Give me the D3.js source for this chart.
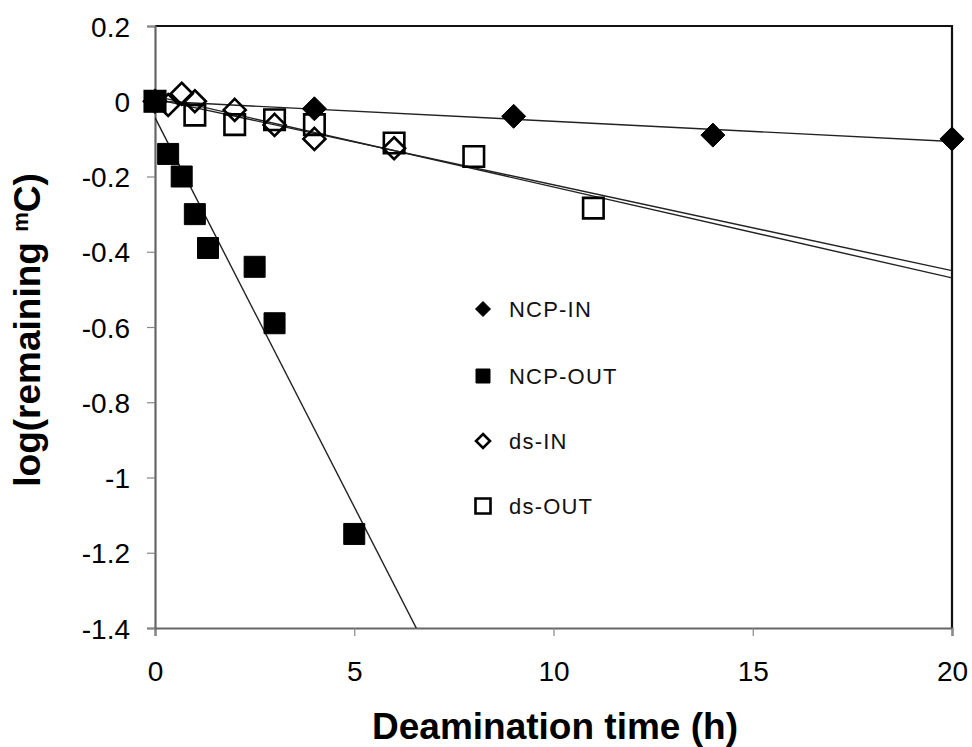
<!DOCTYPE html>
<html>
<head>
<meta charset="utf-8">
<script src="https://cdn.jsdelivr.net/npm/d3@7"></script>
<style>
  html, body { margin: 0; padding: 0; background: #fff; }
  svg { display: block; }
</style>
</head>
<body>
<svg id="chart" width="972" height="747"></svg>
<script>
// Deamination kinetics: log of remaining mC versus time, four samples with linear fits
const ncpInTime  = [0, 4, 9, 14, 20];
const ncpInLog   = [0, -0.02, -0.04, -0.09, -0.10];

const ncpOutTime = [0, 0.33, 0.67, 1, 1.33, 2.5, 3, 5];
const ncpOutLog  = [0, -0.14, -0.20, -0.30, -0.39, -0.44, -0.59, -1.15];

const dsInTime   = [0, 0.33, 0.67, 1, 2, 3, 4, 6];
const dsInLog    = [0, -0.01, 0.02, 0, -0.023, -0.063, -0.10, -0.125];

const dsOutTime  = [0, 1, 2, 3, 4, 6, 8, 11];
const dsOutLog   = [0, -0.037, -0.062, -0.049, -0.062, -0.111, -0.147, -0.284];

const seriesNames = ["NCP-IN", "NCP-OUT", "ds-IN", "ds-OUT"];
const xTicks = [0, 5, 10, 15, 20];
const yTicks = [0.2, 0, -0.2, -0.4, -0.6, -0.8, -1, -1.2, -1.4];
const yTickLabels = ["0.2", "0", "-0.2", "-0.4", "-0.6", "-0.8", "-1", "-1.2", "-1.4"];

const series = [
  { name: seriesNames[0], t: ncpInTime,  v: ncpInLog,  shape: "diamond", fill: true,  size: 24 },
  { name: seriesNames[1], t: ncpOutTime, v: ncpOutLog, shape: "square",  fill: true,  size: 21 },
  { name: seriesNames[2], t: dsInTime,   v: dsInLog,   shape: "diamond", fill: false, size: 22 },
  { name: seriesNames[3], t: dsOutTime,  v: dsOutLog,  shape: "square",  fill: false, size: 20.5 }
];

const svg = d3.select("#chart");
const m = { left: 155, right: 952, top: 26, bottom: 628 };

const x = d3.scaleLinear().domain([0, 20]).range([m.left, m.right]);
const y = d3.scaleLinear().domain([-1.4, 0.2]).range([m.bottom, m.top]);

// least-squares fit, like a spreadsheet trendline
function fit(t, v) {
  const mt = d3.mean(t), mv = d3.mean(v);
  let sxy = 0, sxx = 0;
  for (let i = 0; i < t.length; i++) {
    sxy += (t[i] - mt) * (v[i] - mv);
    sxx += (t[i] - mt) * (t[i] - mt);
  }
  const slope = sxy / sxx;
  return { slope, intercept: mv - slope * mt };
}

svg.append("defs").append("clipPath").attr("id", "plotClip")
  .append("rect")
  .attr("x", m.left).attr("y", m.top)
  .attr("width", m.right - m.left).attr("height", m.bottom - m.top);

// plot frame (top and right)
svg.append("path")
  .attr("d", `M${m.left},${m.top}H${m.right}V${m.bottom}`)
  .attr("fill", "none").attr("stroke", "#111").attr("stroke-width", 2.2);

// axes
const tickFont = "'Liberation Sans', Arial, sans-serif";
const xAxis = svg.append("g").attr("transform", `translate(0,${m.bottom})`)
  .call(d3.axisBottom(x).tickValues(xTicks).tickSize(8).tickPadding(25).tickFormat(d3.format("d")));
const yAxis = svg.append("g").attr("transform", `translate(${m.left},0)`)
  .call(d3.axisLeft(y).tickValues(yTicks).tickSize(8).tickPadding(17)
    .tickFormat((d, i) => yTickLabels[i]));

[xAxis, yAxis].forEach(g => {
  g.select(".domain").attr("stroke", "#666").attr("stroke-width", 2.2);
  g.selectAll(".tick line").attr("stroke", "#888").attr("stroke-width", 1.2);
  g.selectAll(".tick text")
    .attr("fill", "#000")
    .style("font-family", tickFont)
    .style("font-size", "28px");
});
yAxis.selectAll(".tick text").attr("dy", "0.36em");

// trendlines
const lines = svg.append("g").attr("clip-path", "url(#plotClip)");
series.forEach(s => {
  const f = fit(s.t, s.v);
  lines.append("line")
    .attr("x1", x(0)).attr("y1", y(f.intercept))
    .attr("x2", x(20)).attr("y2", y(f.intercept + f.slope * 20))
    .attr("stroke", "#222").attr("stroke-width", 1.4);
});

function markerPath(shape, size) {
  const h = size / 2;
  if (shape === "diamond") return `M0,${-h}L${h},0L0,${h}L${-h},0Z`;
  return `M${-h},${-h}H${h}V${h}H${-h}Z`;
}

function drawMarker(g, s, cx, cy, size) {
  const filled = s.fill;
  g.append("path")
    .attr("d", markerPath(s.shape, size))
    .attr("transform", `translate(${cx},${cy})`)
    .attr("fill", filled ? "#000" : "none")
    .attr("stroke", "#000")
    .attr("stroke-width", filled ? 1 : 2.6)
    .attr("stroke-linejoin", "miter");
}

// points (open markers first so filled markers sit on top)
const pts = svg.append("g");
[3, 2, 0, 1].forEach(k => {
  const s = series[k];
  s.t.forEach((t, i) => drawMarker(pts, s, x(t), y(s.v[i]), s.size));
});

// legend
const legend = svg.append("g");
const legendY = [309, 376, 441, 506];
const legendSize = [15, 14, 14, 15];
series.forEach((s, i) => {
  drawMarker(legend, s, 483, legendY[i], legendSize[i]);
  legend.append("text")
    .attr("x", 509).attr("y", legendY[i]).attr("dy", "0.36em")
    .style("font-family", tickFont)
    .style("font-size", "22px")
    .style("letter-spacing", "1.2px")
    .attr("fill", "#111")
    .text(s.name);
});

// axis titles
svg.append("text")
  .attr("x", 555).attr("y", 739)
  .attr("text-anchor", "middle")
  .style("font-family", tickFont)
  .style("font-size", "37px").style("font-weight", "bold")
  .text("Deamination time (h)");

const yt = svg.append("text")
  .attr("transform", `translate(40,330) rotate(-90)`)
  .attr("text-anchor", "middle")
  .style("font-family", tickFont)
  .style("font-size", "37px").style("font-weight", "bold");
yt.append("tspan").text("log(remaining ");
yt.append("tspan").attr("dy", -12).style("font-size", "22px").text("m");
yt.append("tspan").attr("dy", 12).text("C)");
</script>
</body>
</html>
